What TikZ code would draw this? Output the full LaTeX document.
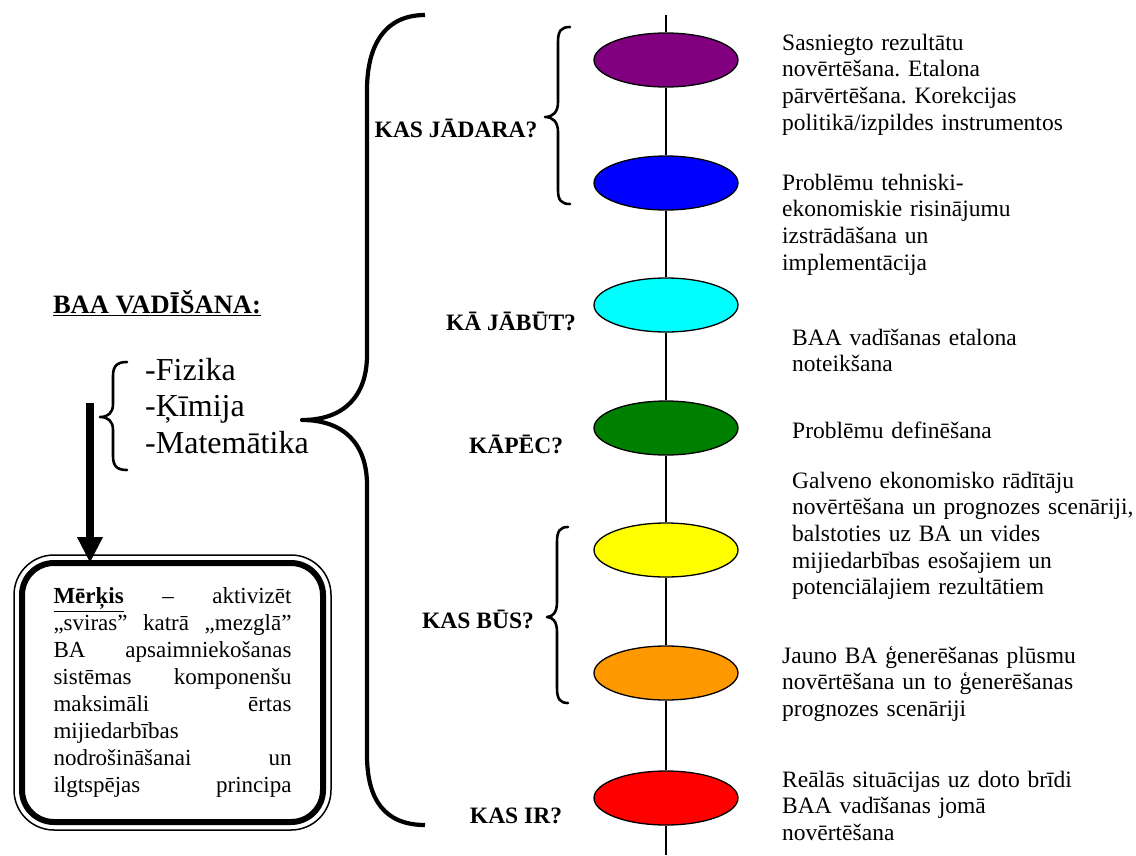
\documentclass[tikz,border=0pt]{standalone}
\usepackage{fontspec}
\setmainfont{Liberation Serif}
\usetikzlibrary{shapes.geometric,arrows.meta}
\frenchspacing
\definecolor{stpurple}{HTML}{800080}
\definecolor{stblue}{HTML}{0000FF}
\definecolor{stcyan}{HTML}{00FFFF}
\definecolor{stgreen}{HTML}{008000}
\definecolor{styellow}{HTML}{FFFF00}
\definecolor{storange}{HTML}{FF9900}
\definecolor{stred}{HTML}{FF0000}
\tikzset{
  stage/.style={ellipse, draw=black, line width=1.3pt, minimum width=144pt, minimum height=54pt, inner sep=0pt},
  axis/.style={draw=black, line width=1.5pt},
  brc/.style={draw=black, line width=2.6pt, line cap=round, line join=round},
  bigbrc/.style={draw=black, line width=4.2pt, line cap=butt, line join=round},
  ask/.style={anchor=base, inner sep=0pt, font=\fontsize{23.5}{26}\selectfont\bfseries},
  desc/.style={anchor=base west, inner sep=0pt, align=left, text width=360pt, font=\fontsize{23.5}{26.7}\selectfont},
  head/.style={anchor=base, inner sep=0pt, font=\fontsize{26.5}{30}\selectfont\bfseries},
  list/.style={anchor=base west, inner sep=0pt, align=left, text width=200pt, font=\fontsize{32}{36.7}\selectfont},
  goal/.style={draw=black, line width=6pt, rounded corners=32pt, minimum width=301pt, minimum height=259pt,
    text width=238pt, inner sep=0pt, outer sep=0pt, align=left, font=\fontsize{23}{27}\selectfont},
  frame/.style={draw=black, line width=1.5pt, rounded corners=40pt},
  push/.style={draw=black, line width=8pt, -{Triangle[width=24pt,length=26pt]}}
}
\begin{document}
\begin{tikzpicture}[x=1pt,y=-1pt]
  \useasboundingbox (0,0) rectangle (1136,855);

  \coordinate (ltop) at (666,15);
  \coordinate (lbot) at (666,855);
  \node[stage, fill=stpurple] (sPurple) at (666,60) {};
  \node[stage, fill=stblue]   (sBlue)   at (666,183) {};
  \node[stage, fill=stcyan]   (sCyan)   at (666,305) {};
  \node[stage, fill=stgreen]  (sGreen)  at (666,428) {};
  \node[stage, fill=styellow] (sYellow) at (666,550) {};
  \node[stage, fill=storange] (sOrange) at (666,673) {};
  \node[stage, fill=stred]    (sRed)    at (666,798) {};
  \draw[axis] (ltop) -- (sPurple) -- (sBlue) -- (sCyan) -- (sGreen)
    -- (sYellow) -- (sOrange) -- (sRed) -- (lbot);

  \node[desc] (dPurple) at (782,50) {Sasniegto rezultātu\\novērtēšana. Etalona\\pārvērtēšana. Korekcijas\\politikā/izpildes instrumentos};
  \node[desc] (dBlue) at (782,190) {Problēmu tehniski-\\ekonomiskie risinājumu\\izstrādāšana un\\implementācija};
  \node[desc] (dCyan) at (792,345) {BAA vadīšanas etalona\\noteikšana};
  \node[desc] (dGreen) at (792,438) {Problēmu definēšana};
  \node[desc] (dYellow) at (792,488) {Galveno ekonomisko rādītāju\\novērtēšana un prognozes scenāriji,\\balstoties uz BA un vides\\mijiedarbības esošajiem un\\potenciālajiem rezultātiem};
  \node[desc] (dOrange) at (782,663) {Jauno BA ģenerēšanas plūsmu\\novērtēšana un to ģenerēšanas\\prognozes scenāriji};
  \node[desc] (dRed) at (782,787) {Reālās situācijas uz doto brīdi\\BAA vadīšanas jomā\\novērtēšana};

  \node[ask] (qDo)   at (456,137) {KAS JĀDARA?};
  \node[ask] (qBe)   at (511,330) {KĀ JĀBŪT?};
  \node[ask] (qWhy)  at (516,453) {KĀPĒC?};
  \node[ask] (qWill) at (478,628) {KAS BŪS?};
  \node[ask] (qIs)   at (516,823) {KAS IR?};

  \draw[brc] (570,27) .. controls (561,27) and (558,31) .. (558,42) -- (558,102)
    .. controls (558,112) and (553,117) .. (545,117)
    .. controls (553,117) and (558,122) .. (558,132) -- (558,190)
    .. controls (558,200) and (561,204) .. (570,204);
  \draw[brc] (568,527) .. controls (560,527) and (557,531) .. (557,542) -- (557,602)
    .. controls (557,612) and (553,617) .. (547,617)
    .. controls (553,617) and (557,622) .. (557,632) -- (557,688)
    .. controls (557,699) and (560,703) .. (568,703);
  \draw[bigbrc] (425,15) .. controls (385,15) and (367,45) .. (367,90) -- (367,355)
    .. controls (367,395) and (345,420) .. (302,420)
    .. controls (345,420) and (367,445) .. (367,485) -- (367,755)
    .. controls (367,800) and (385,825) .. (425,825);

  \node[head] (title) at (157,313) {\underline{BAA VADĪŠANA:}};
  \node[list] (fields) at (145,380) {-Fizika\\-Ķīmija\\-Matemātika};
  \draw[brc] (127,362) .. controls (117,362) and (113,366) .. (113,376) -- (113,404)
    .. controls (113,413) and (108,417) .. (100,417)
    .. controls (108,417) and (113,421) .. (113,430) -- (113,456)
    .. controls (113,466) and (117,470) .. (127,470);

  \node[goal] (goal) at (172.5,692.5) {\textbf{\underline{Mērķis}}\hfill–\hfill aktivizēt\\
    „sviras”\hfill katrā\hfill „mezglā”\\
    BA\hfill apsaimniekošanas\\
    sistēmas\hfill komponenšu\\
    maksimāli\hfill ērtas\\
    mijiedarbības\\
    nodrošināšanai\hfill un\\
    ilgtspējas\hfill principa};
  \draw[frame] ([shift={(-8pt,8pt)}]goal.north west) rectangle ([shift={(8pt,-8pt)}]goal.south east);

  \coordinate (arrtop) at (90,403);
  \draw[push] (arrtop) -- (arrtop |- goal.north);
\end{tikzpicture}
\end{document}
